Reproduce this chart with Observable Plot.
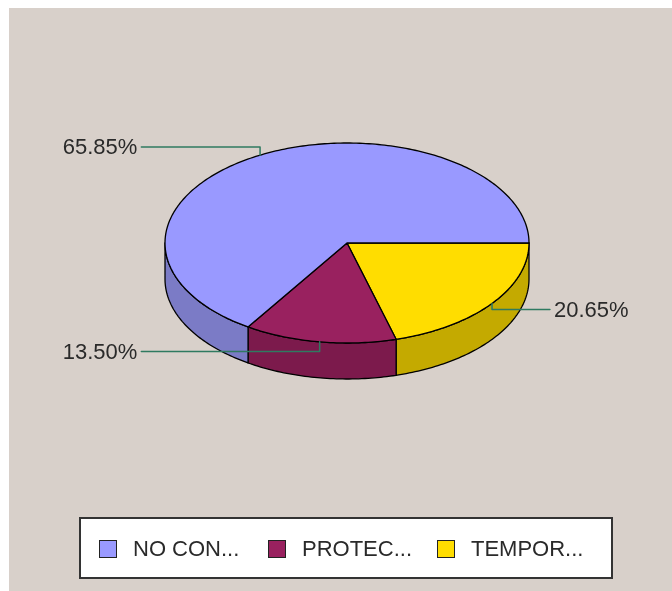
<!DOCTYPE html>
<html><head><meta charset="utf-8">
<script src="https://cdn.jsdelivr.net/npm/d3@7"></script>
<script src="https://cdn.jsdelivr.net/npm/@observablehq/plot@0.6"></script>
<style>
html,body{margin:0;padding:0;background:#fff;overflow:hidden}
#panel{position:absolute;left:9px;top:8px;width:663px;height:583px;background:#d8d0ca;font-family:"Liberation Sans",Arial,sans-serif;filter:blur(0.4px)}
#panel svg{display:block;background:transparent}
#legend{position:absolute;left:70px;top:509px;width:530px;height:58px;background:#fff;border:2px solid #333;box-sizing:content-box}
.item{position:absolute;display:flex;align-items:center;font-size:22px;color:#2a2a2a}
.sw{display:inline-block;width:16px;height:16px;border:1.5px solid #222;margin-right:16px}
</style></head><body>
<div id="panel"><div id="chart"></div><div id="legend"></div></div>
<script>
const categories = ["NO CON...", "PROTEC...", "TEMPOR..."];
const shares = [65.85, 13.50, 20.65];
const labels = ["65.85%", "13.50%", "20.65%"];
const topColors = ["#9999ff", "#99215f", "#ffdd00"];
const wallColors = ["#7b7bc6", "#7c1a4c", "#c4aa00"];
// clockwise drawing order starting from the 3 o'clock edge
const order = [2, 1, 0];
const depth = 0.36;           // wall height in vertical-radius units
const labelY = [-0.96, 1.085, 0.665]; // leader level of each label
const labelX = [-1.13, -1.13, 1.115]; // leader end

const rad = d => d * Math.PI / 180;
const pt = a => ({x: Math.cos(rad(a)), y: Math.sin(rad(a))});
let acc = 0;
const slices = order.map(i => {
  const a0 = acc; acc += shares[i] * 3.6;
  return {i, a0, a1: acc, mid: (a0 + acc) / 2};
});
const arc = (a0, a1) => d3.range(0, Math.ceil(a1 - a0) + 1).map(k => pt(Math.min(a0 + k, a1)));

const walls = slices.filter(s => s.a0 < 180).map(s => {
  const e = Math.min(s.a1, 180);
  const top = arc(s.a0, e);
  const bot = top.map(p => ({x: p.x, y: p.y + depth})).reverse();
  return {i: s.i, pts: [...top, ...bot, top[0]]};
});
const tops = slices.map(s => ({i: s.i, pts: [{x: 0, y: 0}, ...arc(s.a0, s.a1), {x: 0, y: 0}]}));
const leaders = slices.map(s => {
  const m = pt(s.mid);
  return {i: s.i, pts: [m, {x: m.x, y: labelY[s.i]}, {x: labelX[s.i], y: labelY[s.i]}]};
});
const poly = (o, colors) => Plot.line(o.pts, {x: "x", y: "y", fill: colors[o.i], stroke: "#000", strokeWidth: 1.3, curve: "linear", strokeLinejoin: "round"});
const textOpts = {
  x: d => d.pts[2].x, y: d => d.pts[2].y,
  text: d => labels[d.i],
  fontSize: 22, fill: "#2a2a2a", fontFamily: "Liberation Sans, Arial, sans-serif"
};

const plot = Plot.plot({
  width: 663, height: 500, margin: 0,
  style: {background: "transparent"},
  x: {domain: [-1, 1], range: [155.5, 519.5], axis: null},
  y: {domain: [-1, 1], range: [134.5, 334.5], axis: null},
  marks: [
    ...walls.map(o => poly(o, wallColors)),
    ...tops.map(o => poly(o, topColors)),
    ...leaders.map(o => Plot.line(o.pts, {x: "x", y: "y", stroke: "#2f7a60", strokeWidth: 1.5, curve: "linear"})),
    Plot.text(leaders.filter(d => d.pts[2].x < 0), {...textOpts, textAnchor: "end", dx: -4}),
    Plot.text(leaders.filter(d => d.pts[2].x > 0), {...textOpts, textAnchor: "start", dx: 4})
  ]
});
document.getElementById("chart").append(plot);

const lg = document.getElementById("legend");
const lefts = [18, 187, 356];
categories.forEach((c, i) => {
  const it = document.createElement("div");
  it.className = "item";
  it.style.left = lefts[i] + "px";
  it.style.top = "17px";
  it.innerHTML = `<span class="sw" style="background:${topColors[i]}"></span><span>${c}</span>`;
  lg.append(it);
});
</script>
</body></html>
